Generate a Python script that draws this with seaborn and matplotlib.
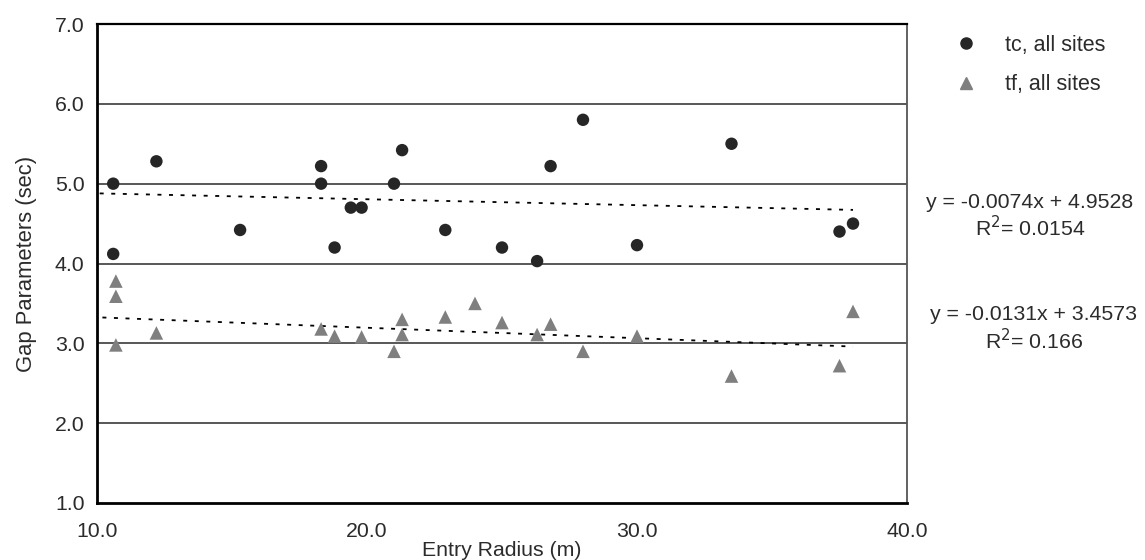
import numpy as np
import pandas as pd
import matplotlib
matplotlib.use("Agg")
import matplotlib.pyplot as plt
import seaborn as sns
from matplotlib.lines import Line2D

# ---- data ----
tc_x = [10.6, 10.6, 12.2, 15.3, 18.3, 18.3, 18.8, 19.4, 19.8, 21.0,
        21.3, 22.9, 25.0, 26.3, 26.8, 28.0, 30.0, 33.5, 37.5, 38.0]
tc_y = [5.00, 4.12, 5.28, 4.42, 5.22, 5.00, 4.20, 4.70, 4.70, 5.00,
        5.42, 4.42, 4.20, 4.03, 5.22, 5.80, 4.23, 5.50, 4.40, 4.50]
tf_x = [10.7, 10.7, 10.7, 12.2, 18.3, 18.8, 19.8, 21.0, 21.3, 21.3,
        22.9, 24.0, 25.0, 26.3, 26.8, 28.0, 30.0, 33.5, 37.5, 38.0]
tf_y = [3.78, 3.59, 2.98, 3.13, 3.18, 3.09, 3.08, 2.90, 3.30, 3.11,
        3.33, 3.50, 3.26, 3.11, 3.24, 2.90, 3.09, 2.59, 2.72, 3.40]
series_labels = ["tc, all sites", "tf, all sites"]
trend_slope = [-0.0074, -0.0131]
trend_intercept = [4.9528, 3.4573]
trend_r2 = ["0.0154", "0.166"]
x_ticks = [10, 20, 30, 40]
y_ticks = [1, 2, 3, 4, 5, 6, 7]

sns.set_theme(style="white")
plt.rcParams["font.family"] = ["Liberation Sans", "DejaVu Sans"]

TXT = "#2b2b2b"
FS = 15.3

fig = plt.figure(figsize=(11.45, 5.6), dpi=100)
ax = fig.add_axes([97/1145, 1-503/560, (907-97)/1145, (503-24)/560])

df_tc = pd.DataFrame({"x": tc_x, "y": tc_y})
df_tf = pd.DataFrame({"x": tf_x, "y": tf_y})

# grid lines
for yv in y_ticks[1:-1]:
    ax.axhline(yv, color="#2a2a2a", lw=1.1, zorder=0)

sns.scatterplot(data=df_tc, x="x", y="y", ax=ax, marker="o", s=80,
                color="#262626", edgecolor="none", zorder=3, legend=False)
sns.scatterplot(data=df_tf, x="x", y="y", ax=ax, marker="^", s=95,
                color="#7f7f7f", edgecolor="none", zorder=3, legend=False)

# trend lines
for xs, m, b in [(tc_x, trend_slope[0], trend_intercept[0]),
                 (tf_x, trend_slope[1], trend_intercept[1])]:
    x0, x1 = min(xs) - 0.5, max(xs)
    tdf = pd.DataFrame({"x": [x0, x1], "y": [m * x0 + b, m * x1 + b]})
    sns.lineplot(data=tdf, x="x", y="y", ax=ax, color="black", lw=1.3,
                 linestyle=(0, (2.2, 4.2)), zorder=2)

ax.set_xlim(10, 40)
ax.set_ylim(1, 7)
ax.set_xticks(x_ticks)
ax.set_xticklabels([f"{v:.1f}" for v in x_ticks])
ax.set_yticks(y_ticks)
ax.set_yticklabels([f"{v:.1f}" for v in y_ticks])
ax.tick_params(axis="both", direction="out", length=6, width=1.1,
               colors="#333333", labelcolor=TXT, labelsize=FS, pad=3)
ax.tick_params(axis="x", pad=8)
ax.set_xlabel("Entry Radius (m)", fontsize=FS, color=TXT, labelpad=0)
ax.set_ylabel("Gap Parameters (sec)", fontsize=15.8, color=TXT, labelpad=13)

for side in ["left", "bottom"]:
    ax.spines[side].set_color("black")
    ax.spines[side].set_linewidth(2.0)
ax.spines["top"].set_color("black")
ax.spines["top"].set_linewidth(1.6)
ax.spines["right"].set_color("#555555")
ax.spines["right"].set_linewidth(1.3)

# legend
handles = [Line2D([], [], marker="o", color="#262626", ls="none", markersize=8),
           Line2D([], [], marker="^", color="#7f7f7f", ls="none", markersize=9)]
fig.legend(handles, series_labels, loc="upper left",
           bbox_to_anchor=(955/1145, 1-35/560), frameon=False,
           fontsize=15.5, handletextpad=1.33, labelspacing=0.85,
           borderpad=0, borderaxespad=0, handlelength=1.0, labelcolor=TXT)

# trend equations
for i, (cx, yl1, yl2) in enumerate([(1030, 202, 228), (1034, 315, 341)]):
    fig.text(cx/1145, 1 - yl1/560, f"y = {trend_slope[i]:.4f}x + {trend_intercept[i]:.4f}",
             ha="center", va="center", fontsize=FS, color=TXT)
    fig.text(cx/1145, 1 - yl2/560, f"R$^{{2}}$= {trend_r2[i]}",
             ha="center", va="center", fontsize=FS, color=TXT)

fig.savefig("out.png", dpi=100)
